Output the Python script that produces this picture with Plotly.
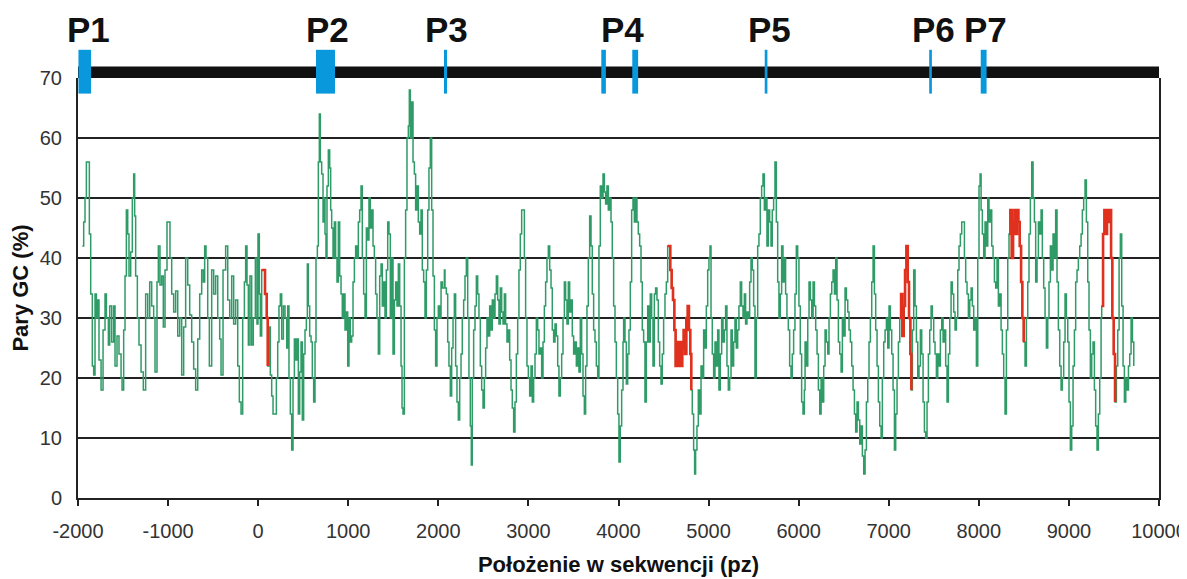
import plotly.graph_objects as go

Y_MAX = 70

POS = [
    -1952, -1937, -1922, -1907, -1885, -1874, -1859, -1841, -1826, -1811, -1796, -1781, -1767, -1744, -1722, -1700,
    -1685, -1663, -1648, -1626, -1604, -1589, -1567, -1545, -1522, -1511, -1493, -1478, -1463, -1448, -1434, -1415,
    -1397, -1382, -1371, -1360, -1341, -1323, -1300, -1275, -1249, -1226, -1204, -1182, -1160, -1145, -1123, -1108,
    -1090, -1071, -1053, -1034, -1012, -997, -979, -960, -938, -916, -893, -871, -849, -827, -805, -782, -760, -738,
    -716, -694, -671, -649, -627, -609, -594, -579, -560, -542, -516, -494, -472, -449, -427, -412, -390, -361, -338,
    -316, -294, -272, -250, -227, -209, -190, -172, -153, -139, -124, -109, -91, -72, -54, -31,
    -13, -2, 13, 24, 39, 58, 76, 95, 106, 120, 135, 150, 165, 187, 202, 217, 231, 246, 261, 280, 298, 317, 328, 342,
    357, 372, 387, 402, 416, 431, 446, 461, 476, 490, 505, 520, 535, 546, 557, 572, 587, 601, 616, 631, 642, 657, 668,
    679, 690, 705, 720, 731, 742, 753, 764, 779, 794, 805, 816, 831, 846, 860, 875, 890, 905, 920, 934, 949, 964, 979,
    994, 1008, 1023, 1038, 1053, 1068, 1082, 1097, 1112, 1127, 1142, 1156, 1171, 1186, 1201, 1216, 1230, 1245, 1260,
    1275, 1290, 1304, 1319, 1334, 1349, 1364, 1378, 1393, 1408, 1423, 1438, 1452, 1467, 1482, 1497, 1512, 1526, 1541,
    1556, 1571, 1586, 1597, 1608, 1623, 1637, 1652, 1667, 1678, 1689, 1704, 1719, 1734, 1748, 1763, 1778, 1793, 1808,
    1822, 1837, 1852, 1867, 1882, 1896, 1911, 1926, 1941, 1956, 1970, 1985, 2000, 2015, 2030, 2045, 2067,
    2074, 2089, 2104, 2118, 2133, 2148, 2163, 2178, 2192, 2207, 2222, 2237, 2252, 2266, 2281, 2296, 2311, 2326, 2340,
    2355, 2366, 2377, 2392, 2407, 2422, 2437, 2451, 2466, 2481, 2496, 2511, 2525, 2540, 2555, 2570, 2585, 2599, 2614,
    2629, 2644, 2659, 2673, 2688, 2703, 2718, 2733, 2747, 2762, 2777, 2792, 2807, 2821, 2836, 2851, 2866, 2881, 2895,
    2910, 2925, 2940, 2955, 2969, 2984, 2999, 3014, 3029, 3043, 3058, 3073, 3088, 3103, 3117, 3132, 3147, 3162, 3177,
    3191, 3206, 3221, 3236, 3251, 3265, 3280, 3295, 3310, 3325, 3339, 3354, 3369, 3384, 3399, 3413, 3428, 3443, 3458,
    3473, 3487, 3502, 3517, 3532, 3547, 3561, 3576, 3591, 3606, 3621, 3635, 3650, 3665, 3680, 3695, 3709, 3724, 3739,
    3754, 3769, 3783, 3798, 3813, 3828, 3843, 3857, 3872, 3887, 3902, 3917, 3931, 3946, 3961, 3976, 3991, 4005, 4020,
    4035, 4050,
    4057, 4072, 4087, 4102, 4116, 4131, 4146, 4161, 4176, 4190, 4205, 4220, 4235, 4250, 4264, 4279, 4294, 4309, 4324,
    4338, 4353, 4368, 4383, 4398, 4412, 4427, 4442, 4457, 4472, 4486, 4501, 4516, 4531, 4546, 4560, 4575, 4590, 4605,
    4620, 4634, 4649, 4664, 4679, 4694, 4708, 4723, 4738, 4753, 4768, 4782, 4797, 4808, 4819, 4834, 4845, 4856, 4871,
    4886, 4901, 4916, 4930, 4945, 4960, 4975, 4990, 5004, 5016, 5027, 5041, 5056, 5071, 5086, 5101, 5115, 5130, 5145,
    5160, 5175, 5189, 5204, 5219, 5234, 5249, 5263, 5278, 5293, 5308, 5323, 5337, 5352, 5367, 5382, 5397, 5411, 5426,
    5441, 5456, 5471, 5485, 5500, 5515, 5530, 5545, 5559, 5574, 5589, 5604, 5619, 5634, 5648, 5663, 5678, 5693, 5707,
    5722, 5737, 5752, 5767, 5781, 5796, 5811, 5826, 5841, 5855, 5870, 5885, 5900, 5915, 5929, 5944, 5959, 5974, 5989,
    6003, 6018, 6033, 6048, 6063,
    6071, 6086, 6101, 6115, 6130, 6145, 6160, 6175, 6189, 6204, 6219, 6234, 6249, 6263, 6278, 6293, 6308, 6323, 6337,
    6352, 6367, 6382, 6397, 6411, 6426, 6441, 6456, 6471, 6485, 6500, 6515, 6530, 6545, 6559, 6574, 6589, 6604, 6619,
    6633, 6648, 6663, 6678, 6693, 6707, 6722, 6737, 6752, 6767, 6781, 6796, 6811, 6826, 6841, 6855, 6870, 6885, 6900,
    6915, 6929, 6944, 6959, 6974, 6989, 7003, 7018, 7033, 7048, 7063, 7077, 7092, 7107, 7122, 7137, 7151, 7166, 7181,
    7196, 7211, 7225, 7240, 7251, 7262, 7277, 7292, 7307, 7322, 7336, 7351, 7366, 7381, 7396, 7410, 7425, 7440, 7455,
    7470, 7484, 7499, 7514, 7529, 7544, 7558, 7573, 7588, 7603, 7618, 7632, 7647, 7662, 7677, 7692, 7706, 7721, 7736,
    7751, 7766, 7780, 7795, 7810, 7825, 7840, 7854, 7869, 7884, 7899, 7914, 7928, 7943,
    7958, 7973, 7988, 8002, 8014, 8025, 8039, 8054, 8069, 8084, 8099, 8113, 8128, 8143, 8158, 8173, 8187, 8202, 8217,
    8232, 8247, 8261, 8276, 8291, 8306, 8321, 8335, 8350, 8365, 8380, 8395, 8409, 8424, 8439, 8454, 8469, 8483, 8498,
    8513, 8528, 8543, 8557, 8572, 8587, 8602, 8617, 8631, 8646, 8661, 8676, 8691, 8705, 8720, 8735, 8750, 8765, 8779,
    8794, 8809, 8824, 8839, 8853, 8868, 8883, 8898, 8913, 8927, 8942, 8957, 8972, 8987, 9001, 9016, 9031, 9046, 9061,
    9075, 9090, 9105, 9120, 9135, 9149, 9164, 9179, 9194, 9209, 9223, 9238, 9253, 9268, 9283, 9297, 9312, 9327, 9342,
    9357, 9364, 9379, 9394, 9408, 9423, 9438, 9453, 9468, 9482, 9497, 9512, 9527, 9542, 9557, 9571, 9586, 9601, 9616,
    9631, 9646, 9661, 9675, 9690, 9705, 9720,
]

GC = [
    42, 46, 50, 56, 56, 44, 34, 22, 20.5, 34, 30, 33, 23, 18, 28, 34,
    30, 25.5, 32, 26, 32, 22, 27, 24, 20, 18, 28, 37, 48, 44, 37, 41,
    50, 54, 47, 37, 30, 25.5, 21, 18, 34, 30, 36, 32, 30, 21, 36, 42,
    35.5, 37, 28.5, 38, 46, 46, 40, 34, 31, 34.5, 27, 30, 20.5, 28.5, 40, 35.5, 30.5, 26,
    21.5, 18, 26.5, 34, 38, 36, 42, 40, 30, 22, 38, 34, 37, 30, 26.5, 20.5, 38, 42, 33,
    30, 37, 29, 33, 22, 16, 14, 30, 36, 42, 35.5, 25.5, 37, 25.5, 30, 40,
    29, 44, 34, 27, 38, 38, 34, 30, 22, 28.5, 20.5, 17, 14, 14, 20, 26, 32, 34, 26.5, 32, 30, 25, 32, 20,
    14, 8, 20, 26.5, 23, 26.5, 14, 21, 26, 13, 24, 28, 30, 39, 32, 27, 26, 20, 16, 26, 40, 42, 56,
    64, 56, 54, 46, 50, 44, 40, 52, 58, 55, 48, 45, 40, 46, 40, 36, 46, 37, 34, 30, 34, 28, 31,
    22, 30, 26, 27, 36, 40, 42, 40, 46, 48, 52, 40, 34, 30, 45, 43, 50, 45, 48,
    42, 40, 34, 30, 24, 37, 39, 32, 36, 30, 38, 46, 44, 30, 40, 24, 33, 36, 32,
    39, 32, 22, 15, 14, 40, 48, 60, 62, 68, 60, 66, 56, 54, 48, 52, 46, 44, 48,
    38, 36, 30, 38, 48, 55, 60, 48, 37, 28, 22, 30, 32, 30, 36, 35, 38,
    35, 34, 26, 22, 17, 25, 30, 34, 22, 16, 13, 20, 24, 30, 33, 37, 40, 30, 20,
    12, 5.5, 20, 28, 32, 37, 34, 30, 22, 18, 15, 20, 25, 30, 27, 32, 28, 33,
    30, 34, 37, 33, 29, 35, 31, 29, 34, 29, 26, 28, 23, 18, 15, 11, 16, 24, 30, 38,
    44, 48, 48, 40, 30, 22, 20, 17, 22, 16, 20, 24, 30, 28, 24, 25, 20, 26, 32,
    36, 40, 42, 38, 35, 28, 26, 29, 27, 22, 17, 20, 24, 30, 36, 33, 29, 36, 31,
    33, 27, 24, 26, 22, 25, 21, 30, 24, 17, 14, 22, 32, 40, 47, 42, 34, 28, 26,
    22, 20, 42, 52, 50, 54, 51, 49, 52, 48, 50, 46, 40, 32, 26, 20, 14, 6, 12,
    18, 26,
    30, 26, 19, 24, 28, 36, 48, 50, 46, 50, 46, 44, 42, 36, 28, 26, 16, 26, 32,
    26, 34, 30, 22, 34, 35, 33, 26, 22, 19, 24, 30, 34, 36, 42, 42, 38, 35, 33,
    28, 22, 26, 22, 26, 22, 25, 28, 24, 30, 32, 28, 24, 18, 14, 8, 4, 8, 12,
    18, 14, 22, 20, 28, 25, 32, 38, 40, 42, 30, 24, 20, 26, 22, 28, 18, 24, 30,
    26, 28, 32, 22, 18, 20, 28, 22, 26, 30, 25, 28, 32, 36, 32, 30, 34, 29, 31,
    30, 36, 40, 38, 32, 20, 30, 42, 44, 50, 52, 54, 48, 50, 42, 48, 46, 42, 48,
    50, 56, 46, 36, 30, 34, 42, 36, 40, 34, 30, 28, 22, 20, 24, 28, 34, 42, 40,
    32, 24, 16, 14, 18,
    26, 22, 30, 36, 33, 30, 36, 32, 28, 24, 18, 14, 20, 16, 22, 28, 26, 24, 30,
    34, 36, 38, 34, 40, 33, 26, 24, 21, 30, 27, 35, 33, 31, 28, 26, 22, 18, 14,
    11, 16, 13, 9, 12, 7, 4, 8, 16, 20, 26, 30, 36, 42, 34, 28, 22, 16, 12,
    10, 20, 26, 28, 30, 25, 32, 28, 24, 18, 8, 14, 20, 26, 30, 34, 27, 32, 38,
    42, 36, 30, 24, 18, 28, 38, 32, 26, 20, 22, 28, 24, 16, 11, 10, 16, 24, 28,
    32, 30, 26, 24, 20, 24, 22, 28, 30, 26, 28, 22, 16, 24, 30, 36, 34, 31, 28,
    30, 38, 42, 44, 46, 46, 40, 36, 34, 30, 33, 35, 32, 28,
    30, 22, 40, 52, 54, 48, 44, 40, 46, 42, 50, 46, 48, 42, 40, 36, 35, 40, 32,
    34, 28, 24, 20, 14, 28, 40, 44, 48, 40, 46, 48, 44, 48, 46, 42, 36, 30, 26,
    22, 30, 36, 44, 50, 56, 50, 46, 36, 40, 46, 44, 48, 40, 35, 30, 25, 30, 36,
    42, 38, 44, 40, 48, 36, 28, 22, 18, 20, 26, 34, 30, 26, 16, 8, 12, 22, 28,
    36, 38, 40, 42, 44, 48, 50, 53, 46, 36, 28, 20, 24, 26, 18, 12, 8, 14, 20,
    30, 32, 44, 48, 44, 48, 46, 48, 40, 30, 24, 16, 22, 28, 40, 44, 32, 22, 16,
    20, 18, 22, 24, 30, 26, 22,
]

RED_RANGES = [(35, 110), (4545, 4810), (7120, 7255), (8330, 8500), (9360, 9515)]

MARK_START = [-1995, 642, 2063, 3809, 4153, 5623, 7449, 8021]
MARK_END = [-1855, 853, 2096, 3860, 4218, 5653, 7479, 8086]
LABELS = ["P1", "P2", "P3", "P4", "P5", "P6", "P7"]
LABEL_X = [-1889, 775, 2096, 4039, 5671, 7492, 8069]
SEQ_START, SEQ_END = -2000, 10000
BAR_Y = (70, 71.9)
MARK_Y = (67.4, 74.7)
LABEL_Y = 78

X_TICKS = list(range(-2000, 10001, 1000))
X_TICK_TEXT = [str(v) for v in X_TICKS]
Y_TICKS = list(range(0, 71, 10))

if len(POS) != len(GC):
    raise ValueError(f"length mismatch {len(POS)} vs {len(GC)}")

GREEN = "#2f9b66"
RED = "#e0301e"
BLUE = "#0a98dc"
FONT = "Arial, Liberation Sans, sans-serif"
NARROW = "Liberation Sans Narrow, Arial Narrow, Arial, sans-serif"


def in_red(x):
    return any(a <= x <= b for a, b in RED_RANGES)


red_y = [v if in_red(x) else None for x, v in zip(POS, GC)]

fig = go.Figure()
fig.add_trace(go.Scatter(x=POS, y=GC, mode="lines", line=dict(color=GREEN, width=1.5, shape="hv"),
                         hoverinfo="skip"))
fig.add_trace(go.Scatter(x=POS, y=red_y, mode="lines", line=dict(color=RED, width=2.6, shape="hv"),
                         connectgaps=False, hoverinfo="skip"))


def yp(v):
    return v / Y_MAX


shapes = [dict(type="rect", xref="x", yref="paper", x0=SEQ_START, x1=SEQ_END,
               y0=yp(BAR_Y[0]), y1=yp(BAR_Y[1]), fillcolor="#111111", line=dict(width=0), layer="above")]
for a, b in zip(MARK_START, MARK_END):
    shapes.append(dict(type="rect", xref="x", yref="paper", x0=a, x1=b,
                       y0=yp(MARK_Y[0]), y1=yp(MARK_Y[1]), fillcolor=BLUE, line=dict(width=0), layer="above"))

annotations = [dict(text=f"<b>{t}</b>", x=x, y=yp(LABEL_Y), xref="x", yref="paper", showarrow=False,
                    xanchor="center", yanchor="middle", font=dict(family=NARROW, size=35, color="#111"))
               for t, x in zip(LABELS, LABEL_X)]

# the page body adds an 8 px offset, so the figure is sized to fit the window
fig.update_layout(
    width=1179, height=571,
    margin=dict(l=70, r=28, t=70, b=81),
    plot_bgcolor="white", paper_bgcolor="white",
    showlegend=False,
    shapes=shapes, annotations=annotations,
    font=dict(family=FONT, color="#333"),
    xaxis=dict(range=[SEQ_START, SEQ_END], tickvals=X_TICKS, ticktext=X_TICK_TEXT, automargin=False,
               ticks="outside", ticklen=6, tickwidth=1.5, tickcolor="#222",
               showline=True, linecolor="#222", linewidth=2, showgrid=False, zeroline=False,
               tickfont=dict(family=NARROW, size=20, color="#333"), ticklabelstandoff=8,
               title=dict(text="<b>Położenie w sekwencji (pz)</b>", font=dict(family=FONT, size=22, color="#111"),
                          standoff=16)),
    yaxis=dict(range=[0, Y_MAX], tickvals=Y_TICKS, ticks="", showgrid=True, gridcolor="#222", gridwidth=1.6,
               showline=True, mirror=True, linecolor="#222", linewidth=2, zeroline=False, automargin=False,
               tickfont=dict(family=NARROW, size=20, color="#333"), ticklabelstandoff=10,
               title=dict(text="<b>Pary GC (%)</b>", font=dict(family=FONT, size=22, color="#111"), standoff=7)),
)

fig.write_html("out.html")
